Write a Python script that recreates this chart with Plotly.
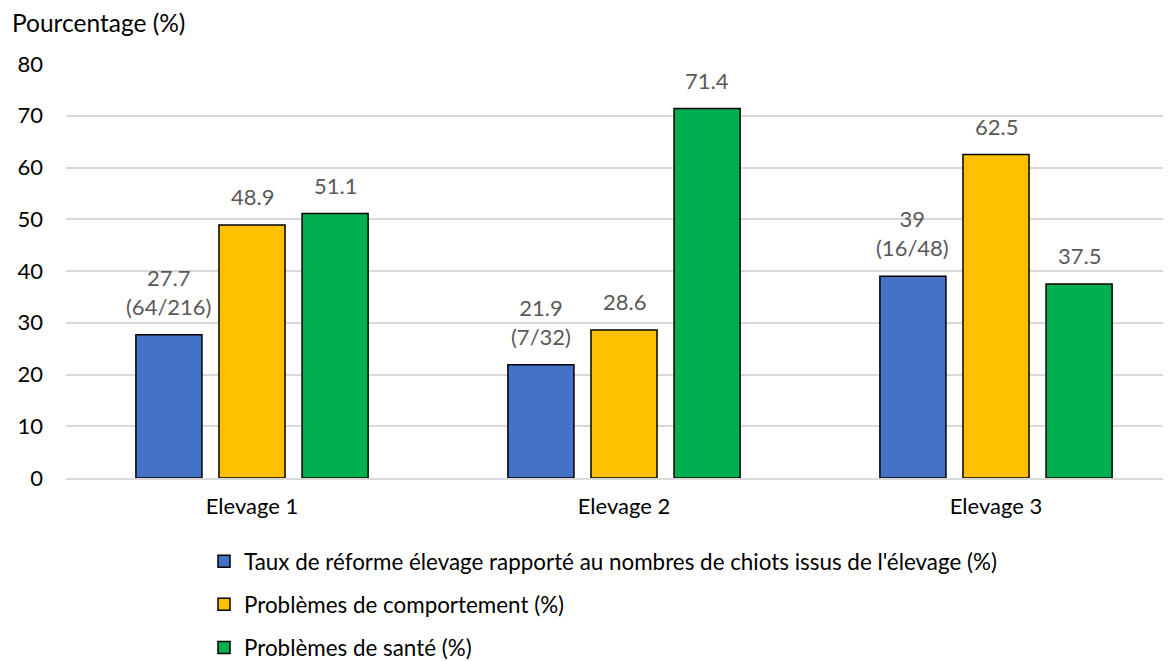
import plotly.graph_objects as go

categories = ["Elevage 1", "Elevage 2", "Elevage 3"]
series_names = [
    "Taux de réforme élevage rapporté au nombres de chiots issus de l'élevage (%)",
    "Problèmes de comportement (%)",
    "Problèmes de santé (%)",
]
taux = [27.7, 21.9, 39]
taux_labels = ["27.7<br>(64/216)", "21.9<br>(7/32)", "39<br>(16/48)"]
comportement = [48.9, 28.6, 62.5]
comportement_labels = ["48.9", "28.6", "62.5"]
sante = [51.1, 71.4, 37.5]
sante_labels = ["51.1", "71.4", "37.5"]
colors = ["#4472C4", "#FFC000", "#00B050"]
y_ticks = [0, 10, 20, 30, 40, 50, 60, 70, 80]

FONT = "Lato, 'Open Sans', sans-serif"

# layout geometry (page has an 8px body margin)
W, H = 1171, 661
ML, MT, MR, MB = 58, 56, 0, 191
CAT_PX = 372.0
BARGAP = 0.33
GROUPGAP = 0.205
plot_w = W - ML - MR
x_max = -0.5 + plot_w / CAT_PX
slot_px = CAT_PX * (1 - BARGAP) / 3

fig = go.Figure()
values = [taux, comportement, sante]
labels = [taux_labels, comportement_labels, sante_labels]
annotations = []
for i, (name, vals, txt) in enumerate(zip(series_names, values, labels)):
    fig.add_trace(go.Bar(
        x=categories, y=vals, name=name,
        marker=dict(color=colors[i], line=dict(color="black", width=1.5)),
        legendgroup=f"g{i}",
        hoverinfo="skip",
    ))
    for c, v, t in zip(categories, vals, txt):
        annotations.append(dict(
            x=c, y=v, xref="x", yref="y", text=t, showarrow=False,
            xanchor="center", yanchor="bottom",
            xshift=(i - 1) * slot_px, yshift=13,
            font=dict(family=FONT, size=22, color="#595959"),
        ))

annotations.append(dict(
    text="Pourcentage (%)", xref="paper", yref="paper",
    x=(2 - ML) / plot_w, y=1 + (56 - 14) / (H - MT - MB),
    xanchor="left", yanchor="middle",
    showarrow=False, font=dict(family=FONT, size=24.5, color="black"),
))

fig.update_layout(
    width=W, height=H,
    paper_bgcolor="white", plot_bgcolor="white",
    margin=dict(l=ML, r=MR, t=MT, b=MB, autoexpand=False),
    barmode="group", bargap=BARGAP, bargroupgap=GROUPGAP,
    font=dict(family=FONT, size=22, color="black"),
    showlegend=True,
    legend=dict(
        orientation="v", x=(196 - ML) / plot_w, xanchor="left", y=-0.150, yanchor="top",
        font=dict(family=FONT, size=22.4, color="black"),
        tracegroupgap=11, itemwidth=30,
        traceorder="grouped",
    ),
    xaxis=dict(
        range=[-0.5, x_max],
        showline=True, linecolor="#D9D9D9", linewidth=1.5,
        ticks="", tickfont=dict(family=FONT, size=22, color="black"),
        ticklabelstandoff=8,
    ),
    yaxis=dict(
        range=[0, 80], tickvals=y_ticks, showgrid=True,
        gridcolor="#D9D9D9", gridwidth=1.5, zeroline=False,
        tickfont=dict(family=FONT, size=22, color="black"),
        ticklabelstandoff=22,
    ),
    annotations=annotations,
)

fig.write_html("out.html")
